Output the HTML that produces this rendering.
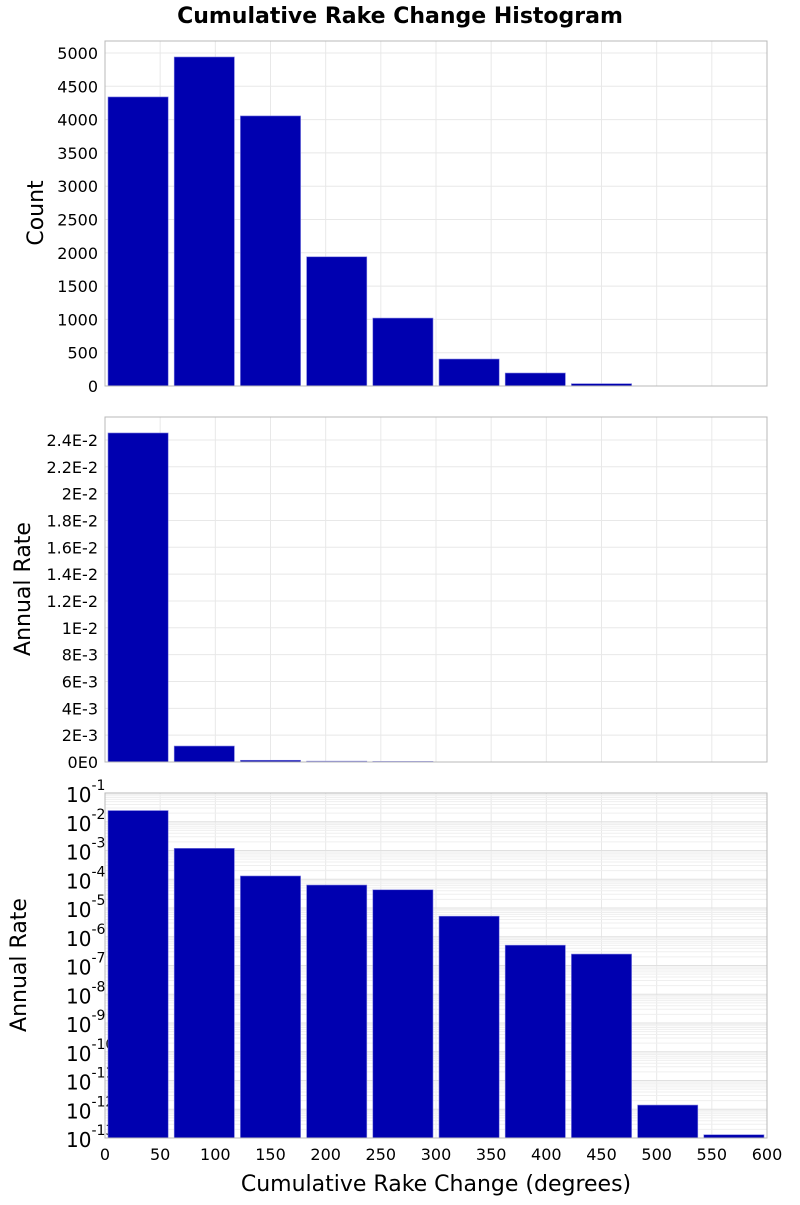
<!DOCTYPE html>
<html><head><meta charset="utf-8"><style>
body{margin:0;background:#fff}
svg text{font-family:"DejaVu Sans","Liberation Sans",sans-serif;fill:#000}
</style></head><body>
<svg id="chart" width="800" height="1200" xmlns="http://www.w3.org/2000/svg">
<text x="400" y="23" text-anchor="middle" font-size="22" font-weight="bold">Cumulative Rake Change Histogram</text>
<text x="436" y="1191" text-anchor="middle" font-size="22">Cumulative Rake Change (degrees)</text>
<g id="g"></g>
</svg>
<script>
const binStarts=[0,60,120,180,240,300,360,420,480,540];
const binWidth=60;
const counts=[4340,4940,4055,1940,1020,405,195,35,2,1];
const rates=[0.02452,0.00119,0.00013,0.000063,0.000043,0.0000052,0.00000051,0.00000025,1.4e-12,1.3e-13];
const countTicks=[0,500,1000,1500,2000,2500,3000,3500,4000,4500,5000];
const rateTicks=[0,0.002,0.004,0.006,0.008,0.01,0.012,0.014,0.016,0.018,0.02,0.022,0.024];
const rateTickLabels=["0E0","2E-3","4E-3","6E-3","8E-3","1E-2","1.2E-2","1.4E-2","1.6E-2","1.8E-2","2E-2","2.2E-2","2.4E-2"];
const logExps=[-1,-2,-3,-4,-5,-6,-7,-8,-9,-10,-11,-12,-13];
const xTicks=[0,50,100,150,200,250,300,350,400,450,500,550,600];

const NS="http://www.w3.org/2000/svg";
const g=document.getElementById('g');
function mk(t,a,p){const e=document.createElementNS(NS,t);for(const k in a)e.setAttribute(k,a[k]);(p||g).appendChild(e);return e;}
const L=105,R=767;
const x=v=>L+(v/600)*(R-L);
const panels=[{top:41,bot:386},{top:417,bot:762},{top:793,bot:1138}];
const y1=v=>386-v/5180*345;
const y2=v=>762-v/0.02571*345;
const y3=v=>793+(-1-Math.log10(v))/12*345;

panels.forEach((p,i)=>{
  const pg=mk('g',{});
  
  
  // vertical grid
  xTicks.forEach(t=>{const l=mk('line',{x1:x(t),x2:x(t),y1:p.top,y2:p.bot,stroke:'#e8e8e8','stroke-width':1},pg);});
});
// panel1
countTicks.forEach(t=>{
  const l=mk('line',{x1:L,x2:R,y1:y1(t),y2:y1(t),stroke:'#e8e8e8'});
  
  const tx=mk('text',{x:98,y:y1(t)+6,'text-anchor':'end','font-size':16});tx.textContent=t;
  
});
rateTicks.forEach((t,i)=>{
  const l=mk('line',{x1:L,x2:R,y1:y2(t),y2:y2(t),stroke:'#e8e8e8'});
  
  const tx=mk('text',{x:98,y:y2(t)+6,'text-anchor':'end','font-size':16});tx.textContent=rateTickLabels[i];
  
});
logExps.forEach(e=>{
  const yy=y3(Math.pow(10,e));
  if(e>-13){for(let m=2;m<10;m++){const ym=y3(m*Math.pow(10,e-1));const l=mk('line',{x1:L,x2:R,y1:ym,y2:ym,stroke:'#efefef'});}}
  const l=mk('line',{x1:L,x2:R,y1:yy,y2:yy,stroke:'#e0e0e0'});
  
  const tx=mk('text',{x:66,y:yy+9,'font-size':20});tx.textContent='10';
  
  const sp=mk('tspan',{dy:-12,'font-size':14},tx);sp.textContent=String(e);
});
// bars
binStarts.forEach((b,i)=>{
  const x0=x(b)+3,w=x(b+binWidth)-x(b)-6;
  const r1=mk('rect',{x:x0,y:y1(counts[i]),width:w,height:386-y1(counts[i]),fill:'#0000b0',stroke:'#8080e0','stroke-width':0.6});
  
  const r2=mk('rect',{x:x0,y:y2(rates[i]),width:w,height:762-y2(rates[i]),fill:'#0000b0',stroke:'#8080e0','stroke-width':0.6});
  
  const r3=mk('rect',{x:x0,y:y3(rates[i]),width:w,height:1138-y3(rates[i]),fill:'#0000b0',stroke:'#8080e0','stroke-width':0.6});
  
});
panels.forEach(p=>{const r=mk('rect',{x:L,y:p.top,width:R-L,height:p.bot-p.top,fill:'none',stroke:'#b8b8b8'});});
xTicks.forEach(t=>{const tx=mk('text',{x:x(t),y:1160,'text-anchor':'middle','font-size':16});tx.textContent=t;});
[['Count',43,213],['Annual Rate',30,589],['Annual Rate',26,965]].forEach(a=>{
  const tx=mk('text',{x:a[1],y:a[2],'text-anchor':'middle','font-size':22,transform:`rotate(-90 ${a[1]} ${a[2]})`});tx.textContent=a[0];
  
});
</script>
</body></html>
